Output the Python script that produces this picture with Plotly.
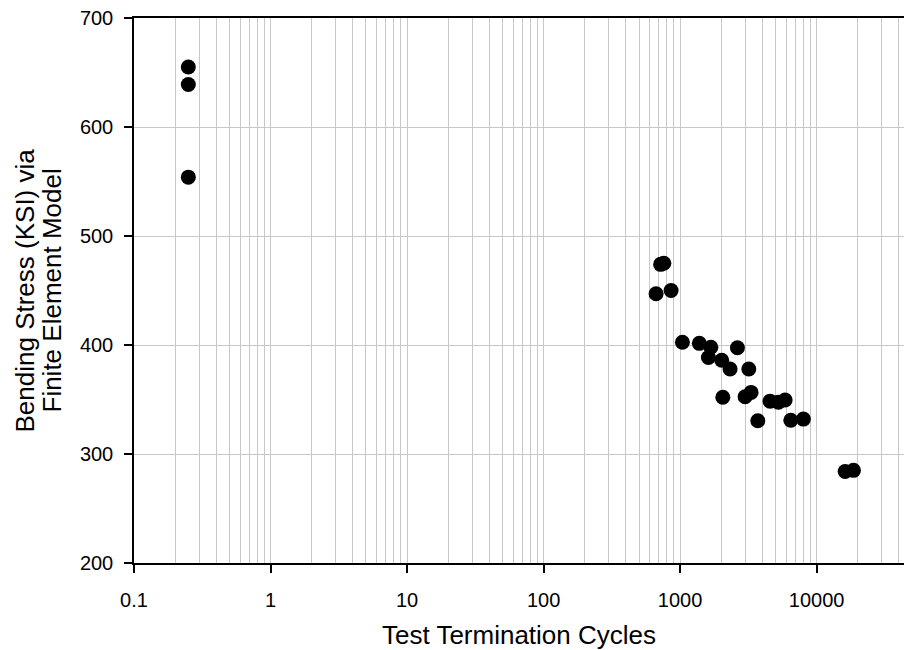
import plotly.graph_objects as go

# Test termination cycles and the matching FEM bending stress (KSI)
cycles = [0.25, 0.25, 0.25,
          720, 760, 667, 859, 1040, 1383, 1680, 1612, 2018, 2323, 2630,
          3186, 2055, 2993, 3311, 3708, 4560, 5250, 5880, 6470, 8000,
          16180, 18620]
stress = [655, 639, 554,
          474, 475, 447, 450, 402.5, 401.5, 398, 388.5, 386, 378, 397.5,
          378, 352, 352.5, 356.5, 330.5, 348.5, 347.5, 349.5, 331, 332,
          284, 285]

x_ticks = [0.1, 1, 10, 100, 1000, 10000]
x_labels = ["0.1", "1", "10", "100", "1000", "10000"]

x_title = "Test Termination Cycles"
y_title_lines = ["Bending Stress (KSI) via", "Finite Element Model"]

font_family = "Liberation Sans, Arial, sans-serif"
grid_color = "#c8c8c8"

fig = go.Figure(go.Scatter(
    x=cycles, y=stress, mode="markers",
    marker=dict(size=15, color="black"),
    showlegend=False,
))

fig.update_layout(
    width=904, height=650,
    margin=dict(l=134, r=0, t=18, b=87),
    plot_bgcolor="white", paper_bgcolor="white",
    font=dict(family=font_family, size=20, color="black"),
)

fig.update_xaxes(
    type="log", range=[-1, 4.64],
    tickvals=x_ticks, ticktext=x_labels,
    tickfont=dict(size=20), ticklabelstandoff=10,
    ticks="outside", ticklen=8, tickcolor="black", tickwidth=1.5,
    showline=True, linecolor="black", linewidth=1.5, mirror=True,
    showgrid=True, gridcolor=grid_color, gridwidth=1,
    minor=dict(dtick="D1", showgrid=True, gridcolor=grid_color, ticks=""),
    zeroline=False,
    title=dict(text=x_title, font=dict(size=26), standoff=16),
)

fig.update_yaxes(
    range=[200, 700], dtick=100,
    tickfont=dict(size=20), ticklabelstandoff=7,
    ticks="outside", ticklen=8, tickcolor="black", tickwidth=1.5,
    showline=True, linecolor="black", linewidth=1.5,
    showgrid=True, gridcolor=grid_color, gridwidth=1,
    zeroline=False,
)

# Two-line rotated y-axis title, set as separate lines for tighter leading
for line, shift in zip(y_title_lines, [-110, -83]):
    fig.add_annotation(
        text=line, textangle=-90, showarrow=False,
        xref="paper", yref="paper", x=0, y=0.5,
        xanchor="center", yanchor="middle", xshift=shift,
        font=dict(size=26),
    )

fig.write_html("out.html")
